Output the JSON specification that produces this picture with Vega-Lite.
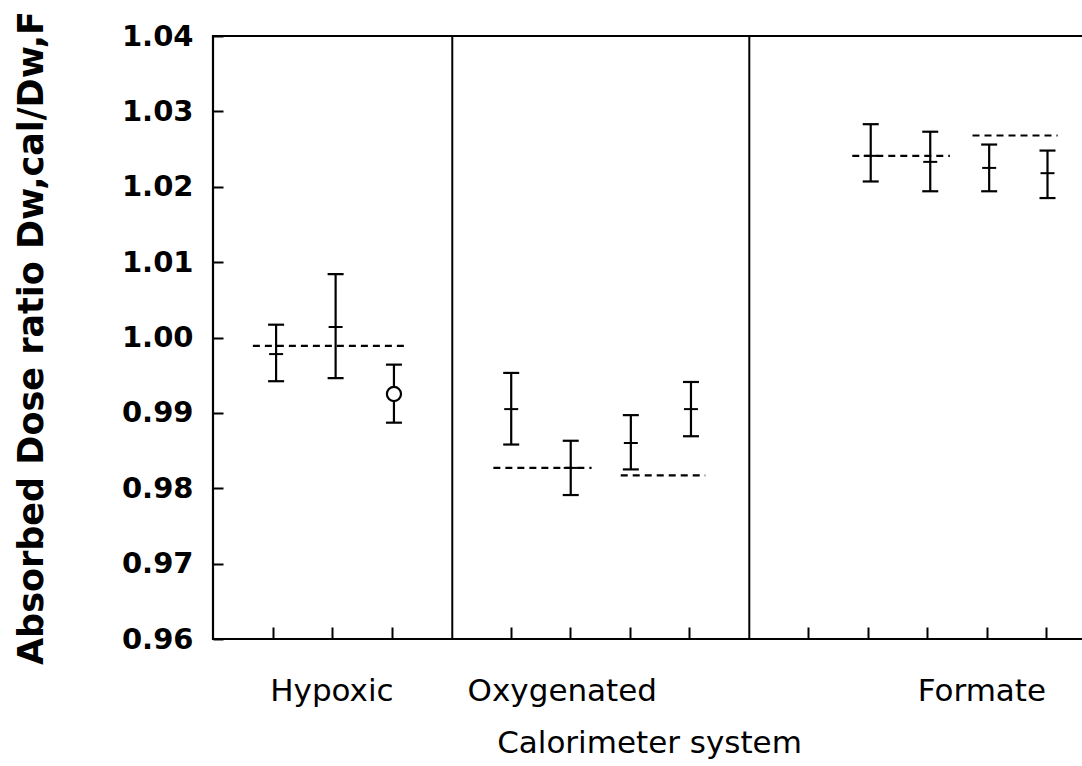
{
  "$schema": "https://vega.github.io/schema/vega-lite/v6.json",
  "autosize": {"type": "none"},
  "padding": {"left": 213, "top": 36, "right": 0, "bottom": 127},
  "width": 872,
  "height": 603,
  "background": "white",
  "config": {
    "view": {"stroke": "black", "strokeWidth": 2.2},
    "axis": {"grid": false, "domain": false, "tickColor": "black", "tickWidth": 2, "labelColor": "black", "titleColor": "black"}
  },
  "data": {
    "values": [
      {"group": "Hypoxic", "x": 1.06, "y": 0.9978, "lo": 0.9942, "hi": 1.0017, "marker": "plus"},
      {"group": "Hypoxic", "x": 2.06, "y": 1.0014, "lo": 0.9946, "hi": 1.0084, "marker": "plus"},
      {"group": "Hypoxic", "x": 3.04, "y": 0.9925, "lo": 0.9887, "hi": 0.9964, "marker": "circle"},
      {"group": "Oxygenated", "x": 5.01, "y": 0.9905, "lo": 0.9858, "hi": 0.9953, "marker": "plus"},
      {"group": "Oxygenated", "x": 6.01, "y": 0.9827, "lo": 0.9791, "hi": 0.9863, "marker": "plus"},
      {"group": "Oxygenated", "x": 7.02, "y": 0.986, "lo": 0.9825, "hi": 0.9897, "marker": "plus"},
      {"group": "Oxygenated", "x": 8.03, "y": 0.9905, "lo": 0.9869, "hi": 0.9941, "marker": "plus"},
      {"group": "Formate", "x": 11.05, "y": 1.0241, "lo": 1.0207, "hi": 1.0283, "marker": "plus"},
      {"group": "Formate", "x": 12.05, "y": 1.0233, "lo": 1.0194, "hi": 1.0273, "marker": "plus"},
      {"group": "Formate", "x": 13.04, "y": 1.0225, "lo": 1.0194, "hi": 1.0256, "marker": "plus"},
      {"group": "Formate", "x": 14.02, "y": 1.0218, "lo": 1.0185, "hi": 1.0248, "marker": "plus"}
    ]
  },
  "layer": [
    {
      "mark": {"type": "rule", "color": "black", "strokeWidth": 2.2},
      "encoding": {
        "x": {
          "field": "x", "type": "quantitative",
          "scale": {"domain": [0, 14.65], "nice": false, "zero": false},
          "axis": {
            "values": [1, 2, 3, 5, 6, 7, 8, 10, 11, 12, 13, 14, 1.99, 5.86, 12.91],
            "labelExpr": "abs(datum.value - 1.99) < 0.001 ? 'Hypoxic' : abs(datum.value - 5.86) < 0.001 ? 'Oxygenated' : abs(datum.value - 12.91) < 0.001 ? 'Formate' : ''",
            "tickSize": -12,
            "tickOpacity": {"condition": {"test": "datum.value % 1 == 0", "value": 1}, "value": 0},
            "labelPadding": 49,
            "labelOverlap": false,
            "labelFlush": false,
            "labelLimit": 500,
            "labelFont": "DejaVu Sans",
            "labelFontSize": 31,
            "labelFontWeight": "normal",
            "title": "Calorimeter system",
            "titleFont": "DejaVu Sans",
            "titleFontSize": 31,
            "titleFontWeight": "normal",
            "titlePadding": 22,
            "titleLimit": 800
          }
        },
        "y": {
          "field": "lo", "type": "quantitative",
          "scale": {"domain": [0.96, 1.04], "nice": false, "zero": false},
          "axis": {
            "values": [0.96, 0.965, 0.97, 0.975, 0.98, 0.985, 0.99, 0.995, 1.0, 1.005, 1.01, 1.015, 1.02, 1.025, 1.03, 1.035, 1.04],
            "labelExpr": "abs(round(datum.value * 1000) % 10) == 0 ? format(datum.value, '.2f') : ''",
            "tickSize": -10,
            "labelPadding": 30,
            "labelOverlap": false,
            "labelFlush": false,
            "labelLimit": 300,
            "labelFont": "DejaVu Sans",
            "labelFontSize": 29,
            "labelFontWeight": "bold",
            "title": "Absorbed Dose ratio Dw,cal/Dw,F",
            "titleFont": "DejaVu Sans",
            "titleFontSize": 35,
            "titleFontWeight": "bold",
            "titlePadding": 72,
            "titleLimit": 800
          }
        },
        "y2": {"field": "hi"}
      }
    },
    {
      "mark": {"type": "tick", "orient": "horizontal", "color": "black", "size": 16, "thickness": 2.2, "opacity": 1},
      "encoding": {
        "x": {"field": "x", "type": "quantitative"},
        "y": {"field": "hi", "type": "quantitative"}
      }
    },
    {
      "mark": {"type": "tick", "orient": "horizontal", "color": "black", "size": 16, "thickness": 2.2, "opacity": 1},
      "encoding": {
        "x": {"field": "x", "type": "quantitative"},
        "y": {"field": "lo", "type": "quantitative"}
      }
    },
    {
      "transform": [{"filter": "datum.marker == 'plus'"}],
      "mark": {"type": "tick", "orient": "horizontal", "color": "black", "size": 14, "thickness": 2, "opacity": 1},
      "encoding": {
        "x": {"field": "x", "type": "quantitative"},
        "y": {"field": "y", "type": "quantitative"}
      }
    },
    {
      "transform": [{"filter": "datum.marker == 'circle'"}],
      "mark": {"type": "point", "shape": "circle", "filled": false, "fill": "white", "fillOpacity": 1, "stroke": "black", "strokeWidth": 2.2, "size": 200, "opacity": 1},
      "encoding": {
        "x": {"field": "x", "type": "quantitative"},
        "y": {"field": "y", "type": "quantitative"}
      }
    },
    {
      "data": {
        "values": [
          {"x": 0.67, "x2": 3.23, "y": 0.9989},
          {"x": 4.71, "x2": 6.36, "y": 0.9827},
          {"x": 6.85, "x2": 8.27, "y": 0.9817},
          {"x": 10.74, "x2": 12.38, "y": 1.0241},
          {"x": 12.76, "x2": 14.19, "y": 1.0268}
        ]
      },
      "mark": {"type": "rule", "color": "black", "strokeWidth": 2.2, "strokeDash": [7, 5]},
      "encoding": {
        "x": {"field": "x", "type": "quantitative"},
        "x2": {"field": "x2"},
        "y": {"field": "y", "type": "quantitative"}
      }
    },
    {
      "data": {"values": [{"x": 4.02}, {"x": 9.01}]},
      "mark": {"type": "rule", "color": "black", "strokeWidth": 2},
      "encoding": {
        "x": {"field": "x", "type": "quantitative"}
      }
    }
  ]
}
